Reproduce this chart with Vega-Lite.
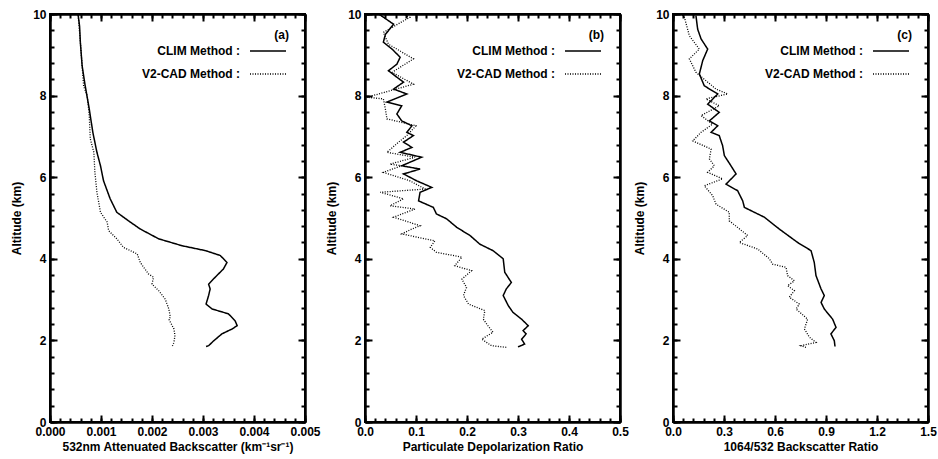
{
  "$schema": "https://vega.github.io/schema/vega-lite/v6.json",
  "padding": {"left": 9, "top": 7, "right": 8, "bottom": 4},
  "background": "white",
  "bounds": "flush",
  "spacing": 60,
  "config": {
    "view": {"stroke": "black", "strokeWidth": 2},
    "axis": {
      "grid": false, "domainColor": "black", "domainWidth": 2, "tickColor": "black", "tickWidth": 2,
      "labelFont": "Liberation Sans", "labelFontWeight": "bold", "labelFontSize": 12, "labelColor": "black",
      "titleFont": "Liberation Sans", "titleFontWeight": "bold", "titleFontSize": 12, "titleColor": "black",
      "labelFlush": false, "labelOverlap": false
    },
    "legend": {
      "orient": "top-right", "offset": 16, "symbolType": "M-3,0H3", "symbolSize": 144, "symbolStrokeWidth": 1.5,
      "symbolStrokeColor": "black", "labelAlign": "right", "labelOffset": -35,
      "labelFont": "Liberation Sans", "labelFontWeight": "bold", "labelFontSize": 12, "labelColor": "black",
      "titleFont": "Liberation Sans", "titleFontWeight": "bold", "titleFontSize": 12, "titleColor": "black",
      "titleAlign": "right", "titleAnchor": "end", "rowPadding": 10, "titlePadding": 2, "padding": 0
    }
  },
  "data": {"values": [
    {"panel":"a","method":"CLIM Method :","alt":10,"value":0.00055},
    {"panel":"a","method":"CLIM Method :","alt":9.7,"value":0.00058},
    {"panel":"a","method":"CLIM Method :","alt":9.31,"value":0.000595},
    {"panel":"a","method":"CLIM Method :","alt":8.73,"value":0.00063},
    {"panel":"a","method":"CLIM Method :","alt":8.24,"value":0.00069},
    {"panel":"a","method":"CLIM Method :","alt":7.67,"value":0.00077},
    {"panel":"a","method":"CLIM Method :","alt":7.1,"value":0.00084},
    {"panel":"a","method":"CLIM Method :","alt":6.61,"value":0.00092},
    {"panel":"a","method":"CLIM Method :","alt":6.28,"value":0.00099},
    {"panel":"a","method":"CLIM Method :","alt":5.91,"value":0.00105},
    {"panel":"a","method":"CLIM Method :","alt":5.47,"value":0.00118},
    {"panel":"a","method":"CLIM Method :","alt":5.14,"value":0.00131},
    {"panel":"a","method":"CLIM Method :","alt":4.93,"value":0.00154},
    {"panel":"a","method":"CLIM Method :","alt":4.73,"value":0.00177},
    {"panel":"a","method":"CLIM Method :","alt":4.49,"value":0.00213},
    {"panel":"a","method":"CLIM Method :","alt":4.32,"value":0.00259},
    {"panel":"a","method":"CLIM Method :","alt":4.2,"value":0.00305},
    {"panel":"a","method":"CLIM Method :","alt":4.08,"value":0.00334},
    {"panel":"a","method":"CLIM Method :","alt":3.91,"value":0.00347},
    {"panel":"a","method":"CLIM Method :","alt":3.75,"value":0.0034},
    {"panel":"a","method":"CLIM Method :","alt":3.55,"value":0.00324},
    {"panel":"a","method":"CLIM Method :","alt":3.38,"value":0.00311},
    {"panel":"a","method":"CLIM Method :","alt":3.26,"value":0.00314},
    {"panel":"a","method":"CLIM Method :","alt":3.1,"value":0.00311},
    {"panel":"a","method":"CLIM Method :","alt":2.89,"value":0.00306},
    {"panel":"a","method":"CLIM Method :","alt":2.77,"value":0.00318},
    {"panel":"a","method":"CLIM Method :","alt":2.65,"value":0.0035},
    {"panel":"a","method":"CLIM Method :","alt":2.48,"value":0.00363},
    {"panel":"a","method":"CLIM Method :","alt":2.36,"value":0.00367},
    {"panel":"a","method":"CLIM Method :","alt":2.28,"value":0.00357},
    {"panel":"a","method":"CLIM Method :","alt":2.16,"value":0.00337},
    {"panel":"a","method":"CLIM Method :","alt":1.99,"value":0.00321},
    {"panel":"a","method":"CLIM Method :","alt":1.87,"value":0.00311},
    {"panel":"a","method":"CLIM Method :","alt":1.85,"value":0.00306},
    {"panel":"a","method":"V2-CAD Method :","alt":10,"value":0.00055},
    {"panel":"a","method":"V2-CAD Method :","alt":9.31,"value":0.000595},
    {"panel":"a","method":"V2-CAD Method :","alt":8.73,"value":0.00063},
    {"panel":"a","method":"V2-CAD Method :","alt":8.23,"value":0.00066},
    {"panel":"a","method":"V2-CAD Method :","alt":8.0,"value":0.00073},
    {"panel":"a","method":"V2-CAD Method :","alt":7.5,"value":0.00077},
    {"panel":"a","method":"V2-CAD Method :","alt":6.94,"value":0.00079},
    {"panel":"a","method":"V2-CAD Method :","alt":6.61,"value":0.00086},
    {"panel":"a","method":"V2-CAD Method :","alt":6.12,"value":0.00088},
    {"panel":"a","method":"V2-CAD Method :","alt":5.63,"value":0.00092},
    {"panel":"a","method":"V2-CAD Method :","alt":5.14,"value":0.00099},
    {"panel":"a","method":"V2-CAD Method :","alt":4.9,"value":0.00112},
    {"panel":"a","method":"V2-CAD Method :","alt":4.69,"value":0.00115},
    {"panel":"a","method":"V2-CAD Method :","alt":4.49,"value":0.00131},
    {"panel":"a","method":"V2-CAD Method :","alt":4.28,"value":0.00144},
    {"panel":"a","method":"V2-CAD Method :","alt":4.12,"value":0.00171},
    {"panel":"a","method":"V2-CAD Method :","alt":3.91,"value":0.00177},
    {"panel":"a","method":"V2-CAD Method :","alt":3.63,"value":0.00193},
    {"panel":"a","method":"V2-CAD Method :","alt":3.55,"value":0.00203},
    {"panel":"a","method":"V2-CAD Method :","alt":3.38,"value":0.002},
    {"panel":"a","method":"V2-CAD Method :","alt":3.22,"value":0.00213},
    {"panel":"a","method":"V2-CAD Method :","alt":3.01,"value":0.00226},
    {"panel":"a","method":"V2-CAD Method :","alt":2.77,"value":0.00233},
    {"panel":"a","method":"V2-CAD Method :","alt":2.57,"value":0.00236},
    {"panel":"a","method":"V2-CAD Method :","alt":2.52,"value":0.00233},
    {"panel":"a","method":"V2-CAD Method :","alt":2.28,"value":0.00243},
    {"panel":"a","method":"V2-CAD Method :","alt":2.12,"value":0.00245},
    {"panel":"a","method":"V2-CAD Method :","alt":1.95,"value":0.00243},
    {"panel":"a","method":"V2-CAD Method :","alt":1.86,"value":0.0024},
    {"panel":"b","method":"CLIM Method :","alt":10,"value":0.027},
    {"panel":"b","method":"CLIM Method :","alt":9.75,"value":0.056},
    {"panel":"b","method":"CLIM Method :","alt":9.5,"value":0.04},
    {"panel":"b","method":"CLIM Method :","alt":9.31,"value":0.036},
    {"panel":"b","method":"CLIM Method :","alt":9.14,"value":0.053},
    {"panel":"b","method":"CLIM Method :","alt":8.94,"value":0.069},
    {"panel":"b","method":"CLIM Method :","alt":8.77,"value":0.0625},
    {"panel":"b","method":"CLIM Method :","alt":8.61,"value":0.046},
    {"panel":"b","method":"CLIM Method :","alt":8.45,"value":0.0625},
    {"panel":"b","method":"CLIM Method :","alt":8.33,"value":0.0756},
    {"panel":"b","method":"CLIM Method :","alt":8.16,"value":0.056},
    {"panel":"b","method":"CLIM Method :","alt":8.04,"value":0.082},
    {"panel":"b","method":"CLIM Method :","alt":7.84,"value":0.043},
    {"panel":"b","method":"CLIM Method :","alt":7.75,"value":0.072},
    {"panel":"b","method":"CLIM Method :","alt":7.55,"value":0.0625},
    {"panel":"b","method":"CLIM Method :","alt":7.38,"value":0.072},
    {"panel":"b","method":"CLIM Method :","alt":7.26,"value":0.092},
    {"panel":"b","method":"CLIM Method :","alt":7.1,"value":0.082},
    {"panel":"b","method":"CLIM Method :","alt":7.02,"value":0.095},
    {"panel":"b","method":"CLIM Method :","alt":6.86,"value":0.0756},
    {"panel":"b","method":"CLIM Method :","alt":6.73,"value":0.092},
    {"panel":"b","method":"CLIM Method :","alt":6.61,"value":0.069},
    {"panel":"b","method":"CLIM Method :","alt":6.49,"value":0.111},
    {"panel":"b","method":"CLIM Method :","alt":6.28,"value":0.072},
    {"panel":"b","method":"CLIM Method :","alt":6.2,"value":0.108},
    {"panel":"b","method":"CLIM Method :","alt":6.08,"value":0.0756},
    {"panel":"b","method":"CLIM Method :","alt":5.91,"value":0.1016},
    {"panel":"b","method":"CLIM Method :","alt":5.75,"value":0.131},
    {"panel":"b","method":"CLIM Method :","alt":5.63,"value":0.108},
    {"panel":"b","method":"CLIM Method :","alt":5.42,"value":0.105},
    {"panel":"b","method":"CLIM Method :","alt":5.26,"value":0.134},
    {"panel":"b","method":"CLIM Method :","alt":5.1,"value":0.14},
    {"panel":"b","method":"CLIM Method :","alt":4.98,"value":0.16},
    {"panel":"b","method":"CLIM Method :","alt":4.77,"value":0.18},
    {"panel":"b","method":"CLIM Method :","alt":4.57,"value":0.206},
    {"panel":"b","method":"CLIM Method :","alt":4.36,"value":0.225},
    {"panel":"b","method":"CLIM Method :","alt":4.2,"value":0.251},
    {"panel":"b","method":"CLIM Method :","alt":4.0,"value":0.271},
    {"panel":"b","method":"CLIM Method :","alt":3.67,"value":0.274},
    {"panel":"b","method":"CLIM Method :","alt":3.42,"value":0.287},
    {"panel":"b","method":"CLIM Method :","alt":3.26,"value":0.277},
    {"panel":"b","method":"CLIM Method :","alt":3.1,"value":0.271},
    {"panel":"b","method":"CLIM Method :","alt":2.85,"value":0.281},
    {"panel":"b","method":"CLIM Method :","alt":2.69,"value":0.29},
    {"panel":"b","method":"CLIM Method :","alt":2.52,"value":0.307},
    {"panel":"b","method":"CLIM Method :","alt":2.36,"value":0.32},
    {"panel":"b","method":"CLIM Method :","alt":2.24,"value":0.31},
    {"panel":"b","method":"CLIM Method :","alt":2.16,"value":0.316},
    {"panel":"b","method":"CLIM Method :","alt":2.03,"value":0.307},
    {"panel":"b","method":"CLIM Method :","alt":1.91,"value":0.313},
    {"panel":"b","method":"CLIM Method :","alt":1.84,"value":0.3},
    {"panel":"b","method":"V2-CAD Method :","alt":10,"value":0.075},
    {"panel":"b","method":"V2-CAD Method :","alt":9.92,"value":0.088},
    {"panel":"b","method":"V2-CAD Method :","alt":9.55,"value":0.036},
    {"panel":"b","method":"V2-CAD Method :","alt":9.26,"value":0.046},
    {"panel":"b","method":"V2-CAD Method :","alt":8.9,"value":0.095},
    {"panel":"b","method":"V2-CAD Method :","alt":8.57,"value":0.053},
    {"panel":"b","method":"V2-CAD Method :","alt":8.28,"value":0.095},
    {"panel":"b","method":"V2-CAD Method :","alt":7.96,"value":0.004},
    {"panel":"b","method":"V2-CAD Method :","alt":7.92,"value":0.036},
    {"panel":"b","method":"V2-CAD Method :","alt":7.67,"value":0.04},
    {"panel":"b","method":"V2-CAD Method :","alt":7.43,"value":0.043},
    {"panel":"b","method":"V2-CAD Method :","alt":7.26,"value":0.1},
    {"panel":"b","method":"V2-CAD Method :","alt":7.02,"value":0.082},
    {"panel":"b","method":"V2-CAD Method :","alt":6.86,"value":0.066},
    {"panel":"b","method":"V2-CAD Method :","alt":6.61,"value":0.043},
    {"panel":"b","method":"V2-CAD Method :","alt":6.49,"value":0.098},
    {"panel":"b","method":"V2-CAD Method :","alt":6.32,"value":0.049},
    {"panel":"b","method":"V2-CAD Method :","alt":6.28,"value":0.072},
    {"panel":"b","method":"V2-CAD Method :","alt":6.12,"value":0.036},
    {"panel":"b","method":"V2-CAD Method :","alt":5.91,"value":0.088},
    {"panel":"b","method":"V2-CAD Method :","alt":5.71,"value":0.118},
    {"panel":"b","method":"V2-CAD Method :","alt":5.63,"value":0.03},
    {"panel":"b","method":"V2-CAD Method :","alt":5.47,"value":0.0756},
    {"panel":"b","method":"V2-CAD Method :","alt":5.3,"value":0.049},
    {"panel":"b","method":"V2-CAD Method :","alt":5.22,"value":0.098},
    {"panel":"b","method":"V2-CAD Method :","alt":5.02,"value":0.056},
    {"panel":"b","method":"V2-CAD Method :","alt":4.81,"value":0.108},
    {"panel":"b","method":"V2-CAD Method :","alt":4.73,"value":0.092},
    {"panel":"b","method":"V2-CAD Method :","alt":4.61,"value":0.072},
    {"panel":"b","method":"V2-CAD Method :","alt":4.44,"value":0.137},
    {"panel":"b","method":"V2-CAD Method :","alt":4.28,"value":0.128},
    {"panel":"b","method":"V2-CAD Method :","alt":4.16,"value":0.14},
    {"panel":"b","method":"V2-CAD Method :","alt":4.04,"value":0.19},
    {"panel":"b","method":"V2-CAD Method :","alt":3.83,"value":0.176},
    {"panel":"b","method":"V2-CAD Method :","alt":3.71,"value":0.209},
    {"panel":"b","method":"V2-CAD Method :","alt":3.5,"value":0.19},
    {"panel":"b","method":"V2-CAD Method :","alt":3.3,"value":0.199},
    {"panel":"b","method":"V2-CAD Method :","alt":3.1,"value":0.193},
    {"panel":"b","method":"V2-CAD Method :","alt":2.89,"value":0.203},
    {"panel":"b","method":"V2-CAD Method :","alt":2.73,"value":0.235},
    {"panel":"b","method":"V2-CAD Method :","alt":2.52,"value":0.232},
    {"panel":"b","method":"V2-CAD Method :","alt":2.36,"value":0.241},
    {"panel":"b","method":"V2-CAD Method :","alt":2.2,"value":0.251},
    {"panel":"b","method":"V2-CAD Method :","alt":2.03,"value":0.229},
    {"panel":"b","method":"V2-CAD Method :","alt":1.87,"value":0.248},
    {"panel":"b","method":"V2-CAD Method :","alt":1.83,"value":0.277},
    {"panel":"c","method":"CLIM Method :","alt":9.96,"value":0.135},
    {"panel":"c","method":"CLIM Method :","alt":9.63,"value":0.145},
    {"panel":"c","method":"CLIM Method :","alt":9.39,"value":0.165},
    {"panel":"c","method":"CLIM Method :","alt":9.14,"value":0.204},
    {"panel":"c","method":"CLIM Method :","alt":8.86,"value":0.175},
    {"panel":"c","method":"CLIM Method :","alt":8.53,"value":0.155},
    {"panel":"c","method":"CLIM Method :","alt":8.24,"value":0.184},
    {"panel":"c","method":"CLIM Method :","alt":8.04,"value":0.263},
    {"panel":"c","method":"CLIM Method :","alt":7.79,"value":0.204},
    {"panel":"c","method":"CLIM Method :","alt":7.59,"value":0.272},
    {"panel":"c","method":"CLIM Method :","alt":7.38,"value":0.214},
    {"panel":"c","method":"CLIM Method :","alt":7.26,"value":0.263},
    {"panel":"c","method":"CLIM Method :","alt":7.1,"value":0.224},
    {"panel":"c","method":"CLIM Method :","alt":7.02,"value":0.272},
    {"panel":"c","method":"CLIM Method :","alt":6.77,"value":0.292},
    {"panel":"c","method":"CLIM Method :","alt":6.53,"value":0.302},
    {"panel":"c","method":"CLIM Method :","alt":6.28,"value":0.341},
    {"panel":"c","method":"CLIM Method :","alt":6.08,"value":0.371},
    {"panel":"c","method":"CLIM Method :","alt":5.83,"value":0.312},
    {"panel":"c","method":"CLIM Method :","alt":5.67,"value":0.38},
    {"panel":"c","method":"CLIM Method :","alt":5.42,"value":0.41},
    {"panel":"c","method":"CLIM Method :","alt":5.26,"value":0.42},
    {"panel":"c","method":"CLIM Method :","alt":5.02,"value":0.537},
    {"panel":"c","method":"CLIM Method :","alt":4.73,"value":0.625},
    {"panel":"c","method":"CLIM Method :","alt":4.4,"value":0.733},
    {"panel":"c","method":"CLIM Method :","alt":4.2,"value":0.812},
    {"panel":"c","method":"CLIM Method :","alt":3.91,"value":0.831},
    {"panel":"c","method":"CLIM Method :","alt":3.59,"value":0.841},
    {"panel":"c","method":"CLIM Method :","alt":3.26,"value":0.871},
    {"panel":"c","method":"CLIM Method :","alt":3.1,"value":0.89},
    {"panel":"c","method":"CLIM Method :","alt":2.93,"value":0.871},
    {"panel":"c","method":"CLIM Method :","alt":2.77,"value":0.89},
    {"panel":"c","method":"CLIM Method :","alt":2.52,"value":0.939},
    {"panel":"c","method":"CLIM Method :","alt":2.32,"value":0.959},
    {"panel":"c","method":"CLIM Method :","alt":2.16,"value":0.929},
    {"panel":"c","method":"CLIM Method :","alt":1.99,"value":0.949},
    {"panel":"c","method":"CLIM Method :","alt":1.85,"value":0.953},
    {"panel":"c","method":"V2-CAD Method :","alt":10,"value":0.05},
    {"panel":"c","method":"V2-CAD Method :","alt":9.92,"value":0.067},
    {"panel":"c","method":"V2-CAD Method :","alt":9.47,"value":0.096},
    {"panel":"c","method":"V2-CAD Method :","alt":9.14,"value":0.155},
    {"panel":"c","method":"V2-CAD Method :","alt":8.9,"value":0.096},
    {"panel":"c","method":"V2-CAD Method :","alt":8.57,"value":0.135},
    {"panel":"c","method":"V2-CAD Method :","alt":8.16,"value":0.253},
    {"panel":"c","method":"V2-CAD Method :","alt":8.04,"value":0.322},
    {"panel":"c","method":"V2-CAD Method :","alt":7.92,"value":0.194},
    {"panel":"c","method":"V2-CAD Method :","alt":7.75,"value":0.272},
    {"panel":"c","method":"V2-CAD Method :","alt":7.51,"value":0.165},
    {"panel":"c","method":"V2-CAD Method :","alt":7.3,"value":0.233},
    {"panel":"c","method":"V2-CAD Method :","alt":7.1,"value":0.165},
    {"panel":"c","method":"V2-CAD Method :","alt":6.89,"value":0.116},
    {"panel":"c","method":"V2-CAD Method :","alt":6.69,"value":0.224},
    {"panel":"c","method":"V2-CAD Method :","alt":6.45,"value":0.214},
    {"panel":"c","method":"V2-CAD Method :","alt":6.28,"value":0.243},
    {"panel":"c","method":"V2-CAD Method :","alt":6.12,"value":0.204},
    {"panel":"c","method":"V2-CAD Method :","alt":5.96,"value":0.292},
    {"panel":"c","method":"V2-CAD Method :","alt":5.79,"value":0.184},
    {"panel":"c","method":"V2-CAD Method :","alt":5.55,"value":0.233},
    {"panel":"c","method":"V2-CAD Method :","alt":5.34,"value":0.253},
    {"panel":"c","method":"V2-CAD Method :","alt":5.14,"value":0.331},
    {"panel":"c","method":"V2-CAD Method :","alt":4.93,"value":0.331},
    {"panel":"c","method":"V2-CAD Method :","alt":4.77,"value":0.38},
    {"panel":"c","method":"V2-CAD Method :","alt":4.57,"value":0.439},
    {"panel":"c","method":"V2-CAD Method :","alt":4.4,"value":0.39},
    {"panel":"c","method":"V2-CAD Method :","alt":4.24,"value":0.498},
    {"panel":"c","method":"V2-CAD Method :","alt":4.0,"value":0.567},
    {"panel":"c","method":"V2-CAD Method :","alt":3.87,"value":0.586},
    {"panel":"c","method":"V2-CAD Method :","alt":3.79,"value":0.665},
    {"panel":"c","method":"V2-CAD Method :","alt":3.59,"value":0.674},
    {"panel":"c","method":"V2-CAD Method :","alt":3.46,"value":0.714},
    {"panel":"c","method":"V2-CAD Method :","alt":3.34,"value":0.674},
    {"panel":"c","method":"V2-CAD Method :","alt":3.22,"value":0.714},
    {"panel":"c","method":"V2-CAD Method :","alt":3.06,"value":0.684},
    {"panel":"c","method":"V2-CAD Method :","alt":2.89,"value":0.743},
    {"panel":"c","method":"V2-CAD Method :","alt":2.77,"value":0.724},
    {"panel":"c","method":"V2-CAD Method :","alt":2.52,"value":0.792},
    {"panel":"c","method":"V2-CAD Method :","alt":2.28,"value":0.773},
    {"panel":"c","method":"V2-CAD Method :","alt":2.08,"value":0.802},
    {"panel":"c","method":"V2-CAD Method :","alt":1.95,"value":0.841},
    {"panel":"c","method":"V2-CAD Method :","alt":1.87,"value":0.753},
    {"panel":"c","method":"V2-CAD Method :","alt":1.83,"value":0.782}
  ]},
  "resolve": {"scale": {"strokeDash": "independent"}, "legend": {"strokeDash": "independent"}},
  "hconcat": [
    {
      "width": 255, "height": 408,
      "transform": [{"filter": "datum.panel === 'a'"}],
      "resolve": {"axis": {"x": "independent", "y": "independent"}},
      "layer": [
        {
          "transform": [{"filter": "datum.method === 'CLIM Method :'"}],
          "mark": {"type": "line", "color": "black", "strokeWidth": 1.5},
          "encoding": {
            "x": {"field": "value", "type": "quantitative", "scale": {"domain": [0, 0.005], "nice": false, "zero": false},
              "axis": {"orient": "bottom", "title": "532nm Attenuated Backscatter (km⁻¹sr⁻¹)", "format": ".3f",
                "values": [0, 0.001, 0.002, 0.003, 0.004, 0.005], "tickSize": -7, "labelPadding": 11, "titlePadding": 4}},
            "y": {"field": "alt", "type": "quantitative", "scale": {"domain": [0, 10], "nice": false, "zero": false},
              "axis": {"orient": "left", "title": "Altitude (km)", "format": "d",
                "values": [0, 2, 4, 6, 8, 10], "tickSize": -7, "labelPadding": 11, "titlePadding": 9}},
            "order": {"field": "alt", "type": "quantitative"},
            "strokeDash": {"field": "method", "type": "nominal",
              "scale": {"domain": ["CLIM Method :", "V2-CAD Method :"], "range": [[1, 0], [1, 1.5]]},
              "legend": {"title": "(a)\u00a0"}}
          }
        },
        {
          "transform": [{"filter": "datum.method === 'V2-CAD Method :'"}],
          "mark": {"type": "line", "color": "black", "strokeWidth": 1.3},
          "encoding": {
            "x": {"field": "value", "type": "quantitative",
              "axis": {"orient": "top", "title": null, "labels": false, "values": [0, 0.001, 0.002, 0.003, 0.004, 0.005], "tickSize": -7}},
            "y": {"field": "alt", "type": "quantitative",
              "axis": {"orient": "right", "title": null, "labels": false, "values": [0, 2, 4, 6, 8, 10], "tickSize": -7}},
            "order": {"field": "alt", "type": "quantitative"},
            "strokeDash": {"field": "method", "type": "nominal"}
          }
        },
        {
          "mark": {"type": "line", "opacity": 0},
          "encoding": {
            "x": {"field": "value", "type": "quantitative",
              "axis": {"orient": "bottom", "title": null, "labels": false, "tickSize": -4,
                "values": [0,0.0002,0.0004,0.0006,0.0008,0.001,0.0012,0.0014,0.0016,0.0018,0.002,0.0022,0.0024,0.0026,0.0028,0.003,0.0032,0.0034,0.0036,0.0038,0.004,0.0042,0.0044,0.0046,0.0048,0.005]}},
            "y": {"field": "alt", "type": "quantitative",
              "axis": {"orient": "left", "title": null, "labels": false, "tickSize": -4,
                "values": [0,0.4,0.8,1.2,1.6,2,2.4,2.8,3.2,3.6,4,4.4,4.8,5.2,5.6,6,6.4,6.8,7.2,7.6,8,8.4,8.8,9.2,9.6,10]}}
          }
        },
        {
          "mark": {"type": "line", "opacity": 0},
          "encoding": {
            "x": {"field": "value", "type": "quantitative",
              "axis": {"orient": "top", "title": null, "labels": false, "tickSize": -4,
                "values": [0,0.0002,0.0004,0.0006,0.0008,0.001,0.0012,0.0014,0.0016,0.0018,0.002,0.0022,0.0024,0.0026,0.0028,0.003,0.0032,0.0034,0.0036,0.0038,0.004,0.0042,0.0044,0.0046,0.0048,0.005]}},
            "y": {"field": "alt", "type": "quantitative",
              "axis": {"orient": "right", "title": null, "labels": false, "tickSize": -4,
                "values": [0,0.4,0.8,1.2,1.6,2,2.4,2.8,3.2,3.6,4,4.4,4.8,5.2,5.6,6,6.4,6.8,7.2,7.6,8,8.4,8.8,9.2,9.6,10]}}
          }
        }
      ]
    },
    {
      "spacing": 53,
      "bounds": "flush",
      "resolve": {"scale": {"strokeDash": "independent"}, "legend": {"strokeDash": "independent"}},
      "hconcat": [
        {
          "width": 255, "height": 408,
          "transform": [{"filter": "datum.panel === 'b'"}],
          "resolve": {"axis": {"x": "independent", "y": "independent"}},
          "layer": [
            {
              "transform": [{"filter": "datum.method === 'CLIM Method :'"}],
              "mark": {"type": "line", "color": "black", "strokeWidth": 1.5},
              "encoding": {
                "x": {"field": "value", "type": "quantitative", "scale": {"domain": [0, 0.5], "nice": false, "zero": false},
                  "axis": {"orient": "bottom", "title": "Particulate Depolarization Ratio", "format": ".1f",
                    "values": [0, 0.1, 0.2, 0.3, 0.4, 0.5], "tickSize": -7, "labelPadding": 11, "titlePadding": 4}},
                "y": {"field": "alt", "type": "quantitative", "scale": {"domain": [0, 10], "nice": false, "zero": false},
                  "axis": {"orient": "left", "title": "Altitude (km)", "format": "d",
                    "values": [0, 2, 4, 6, 8, 10], "tickSize": -7, "labelPadding": 11, "titlePadding": 9}},
                "order": {"field": "alt", "type": "quantitative"},
                "strokeDash": {"field": "method", "type": "nominal",
                  "scale": {"domain": ["CLIM Method :", "V2-CAD Method :"], "range": [[1, 0], [1, 1.5]]},
                  "legend": {"title": "(b)\u00a0"}}
              }
            },
            {
              "transform": [{"filter": "datum.method === 'V2-CAD Method :'"}],
              "mark": {"type": "line", "color": "black", "strokeWidth": 1.3},
              "encoding": {
                "x": {"field": "value", "type": "quantitative",
                  "axis": {"orient": "top", "title": null, "labels": false, "values": [0, 0.1, 0.2, 0.3, 0.4, 0.5], "tickSize": -7}},
                "y": {"field": "alt", "type": "quantitative",
                  "axis": {"orient": "right", "title": null, "labels": false, "values": [0, 2, 4, 6, 8, 10], "tickSize": -7}},
                "order": {"field": "alt", "type": "quantitative"},
                "strokeDash": {"field": "method", "type": "nominal"}
              }
            },
            {
              "mark": {"type": "line", "opacity": 0},
              "encoding": {
                "x": {"field": "value", "type": "quantitative",
                  "axis": {"orient": "bottom", "title": null, "labels": false, "tickSize": -4,
                    "values": [0,0.02,0.04,0.06,0.08,0.1,0.12,0.14,0.16,0.18,0.2,0.22,0.24,0.26,0.28,0.3,0.32,0.34,0.36,0.38,0.4,0.42,0.44,0.46,0.48,0.5]}},
                "y": {"field": "alt", "type": "quantitative",
                  "axis": {"orient": "left", "title": null, "labels": false, "tickSize": -4,
                    "values": [0,0.4,0.8,1.2,1.6,2,2.4,2.8,3.2,3.6,4,4.4,4.8,5.2,5.6,6,6.4,6.8,7.2,7.6,8,8.4,8.8,9.2,9.6,10]}}
              }
            },
            {
              "mark": {"type": "line", "opacity": 0},
              "encoding": {
                "x": {"field": "value", "type": "quantitative",
                  "axis": {"orient": "top", "title": null, "labels": false, "tickSize": -4,
                    "values": [0,0.02,0.04,0.06,0.08,0.1,0.12,0.14,0.16,0.18,0.2,0.22,0.24,0.26,0.28,0.3,0.32,0.34,0.36,0.38,0.4,0.42,0.44,0.46,0.48,0.5]}},
                "y": {"field": "alt", "type": "quantitative",
                  "axis": {"orient": "right", "title": null, "labels": false, "tickSize": -4,
                    "values": [0,0.4,0.8,1.2,1.6,2,2.4,2.8,3.2,3.6,4,4.4,4.8,5.2,5.6,6,6.4,6.8,7.2,7.6,8,8.4,8.8,9.2,9.6,10]}}
              }
            }
          ]
        },
        {
          "width": 255, "height": 408,
          "transform": [{"filter": "datum.panel === 'c'"}],
          "resolve": {"axis": {"x": "independent", "y": "independent"}},
          "layer": [
            {
              "transform": [{"filter": "datum.method === 'CLIM Method :'"}],
              "mark": {"type": "line", "color": "black", "strokeWidth": 1.5},
              "encoding": {
                "x": {"field": "value", "type": "quantitative", "scale": {"domain": [0, 1.5], "nice": false, "zero": false},
                  "axis": {"orient": "bottom", "title": "1064/532 Backscatter Ratio", "format": ".1f",
                    "values": [0, 0.3, 0.6, 0.9, 1.2, 1.5], "tickSize": -7, "labelPadding": 11, "titlePadding": 4}},
                "y": {"field": "alt", "type": "quantitative", "scale": {"domain": [0, 10], "nice": false, "zero": false},
                  "axis": {"orient": "left", "title": "Altitude (km)", "format": "d",
                    "values": [0, 2, 4, 6, 8, 10], "tickSize": -7, "labelPadding": 11, "titlePadding": 9}},
                "order": {"field": "alt", "type": "quantitative"},
                "strokeDash": {"field": "method", "type": "nominal",
                  "scale": {"domain": ["CLIM Method :", "V2-CAD Method :"], "range": [[1, 0], [1, 1.5]]},
                  "legend": {"title": "(c)\u00a0"}}
              }
            },
            {
              "transform": [{"filter": "datum.method === 'V2-CAD Method :'"}],
              "mark": {"type": "line", "color": "black", "strokeWidth": 1.3},
              "encoding": {
                "x": {"field": "value", "type": "quantitative",
                  "axis": {"orient": "top", "title": null, "labels": false, "values": [0, 0.3, 0.6, 0.9, 1.2, 1.5], "tickSize": -7}},
                "y": {"field": "alt", "type": "quantitative",
                  "axis": {"orient": "right", "title": null, "labels": false, "values": [0, 2, 4, 6, 8, 10], "tickSize": -7}},
                "order": {"field": "alt", "type": "quantitative"},
                "strokeDash": {"field": "method", "type": "nominal"}
              }
            },
            {
              "mark": {"type": "line", "opacity": 0},
              "encoding": {
                "x": {"field": "value", "type": "quantitative",
                  "axis": {"orient": "bottom", "title": null, "labels": false, "tickSize": -4,
                    "values": [0,0.06,0.12,0.18,0.24,0.3,0.36,0.42,0.48,0.54,0.6,0.66,0.72,0.78,0.84,0.9,0.96,1.02,1.08,1.14,1.2,1.26,1.32,1.38,1.44,1.5]}},
                "y": {"field": "alt", "type": "quantitative",
                  "axis": {"orient": "left", "title": null, "labels": false, "tickSize": -4,
                    "values": [0,0.4,0.8,1.2,1.6,2,2.4,2.8,3.2,3.6,4,4.4,4.8,5.2,5.6,6,6.4,6.8,7.2,7.6,8,8.4,8.8,9.2,9.6,10]}}
              }
            },
            {
              "mark": {"type": "line", "opacity": 0},
              "encoding": {
                "x": {"field": "value", "type": "quantitative",
                  "axis": {"orient": "top", "title": null, "labels": false, "tickSize": -4,
                    "values": [0,0.06,0.12,0.18,0.24,0.3,0.36,0.42,0.48,0.54,0.6,0.66,0.72,0.78,0.84,0.9,0.96,1.02,1.08,1.14,1.2,1.26,1.32,1.38,1.44,1.5]}},
                "y": {"field": "alt", "type": "quantitative",
                  "axis": {"orient": "right", "title": null, "labels": false, "tickSize": -4,
                    "values": [0,0.4,0.8,1.2,1.6,2,2.4,2.8,3.2,3.6,4,4.4,4.8,5.2,5.6,6,6.4,6.8,7.2,7.6,8,8.4,8.8,9.2,9.6,10]}}
              }
            }
          ]
        }
      ]
    }
  ]
}
